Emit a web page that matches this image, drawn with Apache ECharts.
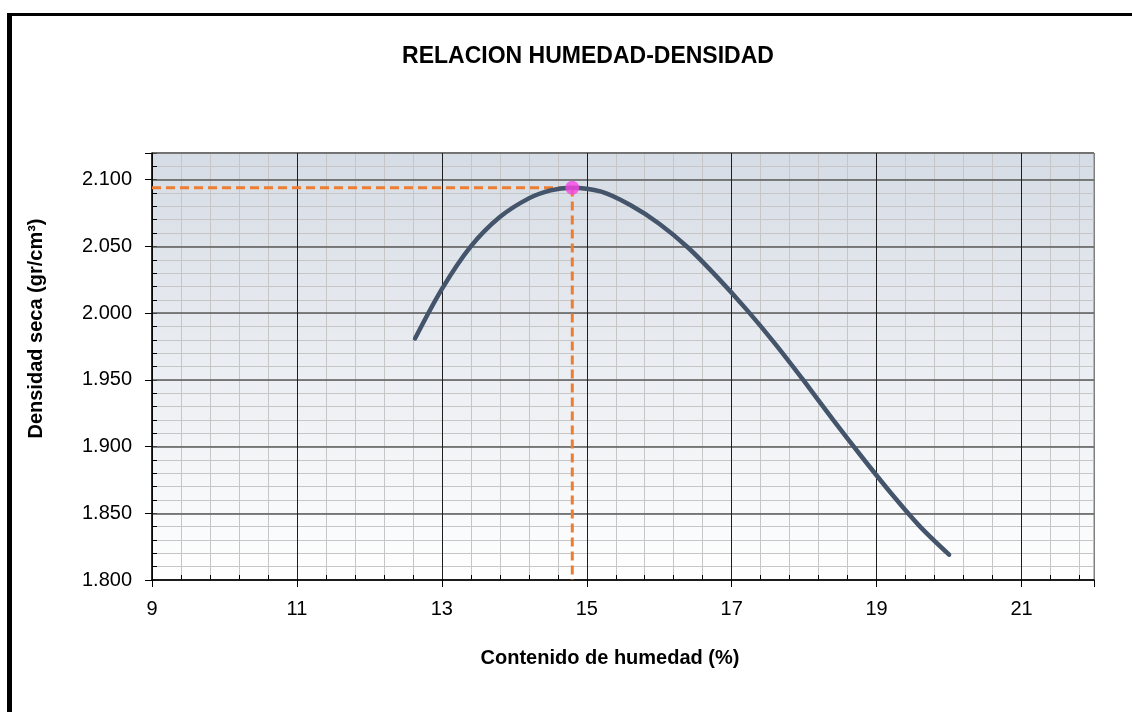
<!DOCTYPE html>
<html>
<head>
<meta charset="utf-8">
<script src="https://cdn.jsdelivr.net/npm/echarts@6/dist/echarts.min.js"></script>
<style>
  html, body { margin: 0; padding: 0; background: #fff; }
  #chart { width: 1132px; height: 712px; }
</style>
</head>
<body>
<div id="chart"></div>
<script>
// curva humedad-densidad
const humedad = [12.63, 13.0, 13.4, 13.8, 14.2, 14.5, 14.78, 15.2, 15.6, 16.0, 16.4, 16.8, 17.2, 17.6, 18.0, 18.4, 18.8, 19.2, 19.6, 20.0]
const densidad = [1.981, 2.018, 2.050, 2.072, 2.086, 2.092, 2.094, 2.091, 2.081, 2.067, 2.049, 2.027, 2.003, 1.977, 1.949, 1.920, 1.892, 1.865, 1.840, 1.819]

// optimo
const humedadOptima = 14.8
const densidadMaxima = 2.094

// ejes
const xMin = 9
const xMax = 22
const yMin = 1.8
const yMax = 2.12

const font = '"Liberation Sans", Arial, sans-serif'

const chart = echarts.init(document.getElementById('chart'))

const curva = humedad.map((h, i) => [h, densidad[i]])
const guia = [[xMin, densidadMaxima], [humedadOptima, densidadMaxima], [humedadOptima, yMin]]

chart.setOption({
  animation: false,
  grid: {
    left: 152, right: 38, top: 153, bottom: 132,
    show: true,
    borderColor: '#7f7f7f',
    borderWidth: 1,
    backgroundColor: new echarts.graphic.LinearGradient(0, 0, 0, 1, [
      { offset: 0, color: '#d6dce5' },
      { offset: 1, color: '#ffffff' }
    ])
  },
  graphic: [
    { type: 'rect', shape: { x: 7, y: 13, width: 1130, height: 3 }, style: { fill: '#000' } },
    { type: 'rect', shape: { x: 7, y: 13, width: 5, height: 700 }, style: { fill: '#000' } },
    {
      type: 'text', x: 588, y: 57,
      style: { text: 'RELACION HUMEDAD-DENSIDAD', align: 'center', verticalAlign: 'middle',
        font: 'bold 23px ' + font, fill: '#000' }
    }
  ],
  xAxis: [
    {
      // lineas menores
      type: 'value', min: xMin, max: xMax, interval: 0.4, position: 'bottom', z: 0,
      axisLine: { show: false },
      axisLabel: { show: false },
      axisTick: { show: true, inside: true, length: 5, lineStyle: { color: '#000' } },
      splitLine: { show: true, lineStyle: { color: '#c6c6c6', width: 1 } }
    },
    {
      type: 'value', min: xMin, max: xMax, interval: 2, position: 'bottom', z: 1,
      name: 'Contenido de humedad (%)',
      nameLocation: 'middle', nameGap: 68,
      nameTextStyle: { fontFamily: font, fontWeight: 'bold', fontSize: 20, color: '#000', padding: [0, 26, 0, 0] },
      axisLine: { show: true, lineStyle: { color: '#000', width: 1.5 } },
      axisTick: { show: true, inside: false, length: 7, lineStyle: { color: '#000' } },
      axisLabel: {
        margin: 19, fontFamily: font, fontSize: 20, color: '#000',
        formatter: v => (v === xMax ? '' : String(v))
      },
      splitLine: { show: true, lineStyle: { color: ['#1e1e1e', '#1e1e1e', '#1e1e1e', '#1e1e1e', '#1e1e1e', '#1e1e1e', '#1e1e1e', '#7f7f7f'], width: 1 } }
    }
  ],
  yAxis: [
    {
      type: 'value', min: yMin, max: yMax, interval: 0.01, position: 'left', z: 0,
      axisLine: { show: false },
      axisLabel: { show: false },
      axisTick: { show: true, inside: true, length: 5, lineStyle: { color: '#000' } },
      splitLine: { show: true, lineStyle: { color: '#c6c6c6', width: 1 } }
    },
    {
      type: 'value', min: yMin, max: yMax, interval: 0.05, position: 'left', z: 1,
      name: 'Densidad seca (gr/cm³)',
      nameLocation: 'middle', nameGap: 106,
      nameTextStyle: { fontFamily: font, fontWeight: 'bold', fontSize: 20, color: '#000', padding: [0, 0, 0, 76] },
      axisLine: { show: true, lineStyle: { color: '#000', width: 1.5 } },
      axisTick: { show: true, inside: false, length: 7, lineStyle: { color: '#000' } },
      axisLabel: {
        margin: 20, fontFamily: font, fontSize: 20, color: '#000',
        formatter: v => (Math.abs(v - yMax) < 1e-6 ? '' : v.toFixed(3))
      },
      splitLine: { show: true, lineStyle: { color: '#5a5a5a', width: 1.5 } }
    }
  ],
  series: [
    {
      name: 'guia',
      type: 'line',
      xAxisIndex: 1, yAxisIndex: 1,
      data: guia,
      symbol: 'none',
      z: 3,
      lineStyle: { color: '#ed7d31', width: 3, type: [9, 5] }
    },
    {
      name: 'curva',
      type: 'line',
      xAxisIndex: 1, yAxisIndex: 1,
      data: curva,
      smooth: 0.3,
      symbol: 'none',
      z: 4,
      lineStyle: { color: '#44546a', width: 4.5, cap: 'round' }
    },
    {
      name: 'optimo',
      type: 'scatter',
      xAxisIndex: 1, yAxisIndex: 1,
      data: [[humedadOptima, densidadMaxima]],
      symbolSize: 14,
      z: 5,
      itemStyle: { color: '#f845e6' }
    }
  ]
})
</script>
</body>
</html>
